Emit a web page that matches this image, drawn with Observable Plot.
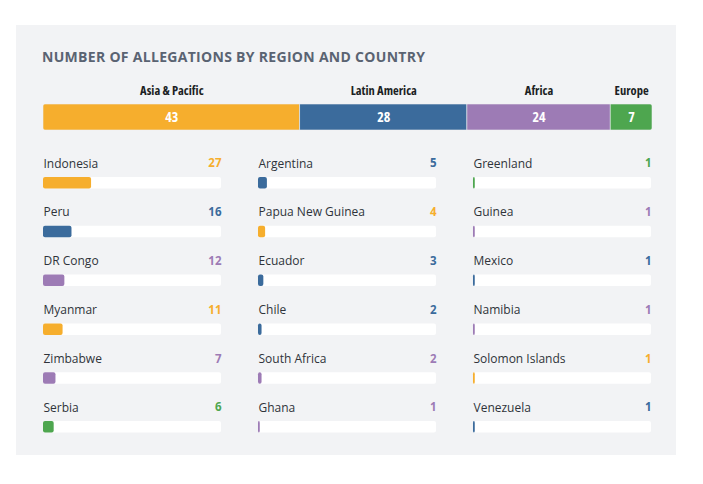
<!DOCTYPE html>
<html>
<head>
<meta charset="utf-8">
<script src="https://cdn.jsdelivr.net/npm/d3@7"></script>
<script src="https://cdn.jsdelivr.net/npm/@observablehq/plot@0.6"></script>
<style>
  html, body { margin: 0; padding: 0; background: #ffffff; }
  body { width: 703px; height: 484px; position: relative; overflow: hidden; font-family: "Open Sans", sans-serif; }
  #panel { position: absolute; left: 16px; top: 25px; width: 660px; height: 430px; background: #f2f3f5; }
  #title { position: absolute; left: 42px; top: 47px; font-family: "Open Sans", sans-serif; font-weight: 700; font-size: 14px; color: #5a6372; letter-spacing: 0.3px; white-space: nowrap; }
  #stack { position: absolute; left: 0; top: 80px; }
  #grid { position: absolute; left: 0; top: 140px; }
  #stack g[aria-label="bar"] { clip-path: inset(0 round 4px); }
  #stack text { font-stretch: 75%; }
  svg { background: transparent !important; overflow: visible; }
</style>
</head>
<body>
<div id="panel"></div>
<div id="title">NUMBER OF ALLEGATIONS BY REGION AND COUNTRY</div>
<div id="stack"></div>
<div id="grid"></div>
<script>
// Region totals
const regions = ["Asia & Pacific", "Latin America", "Africa", "Europe"];
const regionTotals = [43, 28, 24, 7];
const regionColors = ["#f6ae2d", "#3b6b9c", "#9d7bb5", "#4ea64f"];

// Countries, by column (top to bottom)
const countries = [
  "Indonesia", "Peru", "DR Congo", "Myanmar", "Zimbabwe", "Serbia",
  "Argentina", "Papua New Guinea", "Ecuador", "Chile", "South Africa", "Ghana",
  "Greenland", "Guinea", "Mexico", "Namibia", "Solomon Islands", "Venezuela"
];
const countryValues = [
  27, 16, 12, 11, 7, 6,
  5, 4, 3, 2, 2, 1,
  1, 1, 1, 1, 1, 1
];
const countryRegions = [
  "Asia & Pacific", "Latin America", "Africa", "Asia & Pacific", "Africa", "Europe",
  "Latin America", "Asia & Pacific", "Latin America", "Latin America", "Africa", "Africa",
  "Europe", "Africa", "Latin America", "Africa", "Asia & Pacific", "Latin America"
];
const countryColumn = [0,0,0,0,0,0, 1,1,1,1,1,1, 2,2,2,2,2,2];
const countryRow = [0,1,2,3,4,5, 0,1,2,3,4,5, 0,1,2,3,4,5];
const barMax = 100;

const regionData = regions.map((r, i) => ({region: r, value: regionTotals[i]}));
const countryData = countries.map((c, i) => ({
  country: c, value: countryValues[i], region: countryRegions[i],
  col: countryColumn[i], row: countryRow[i], max: barMax
}));

const color = {domain: regions, range: regionColors};
const font = "'Open Sans', sans-serif";

const stack = Plot.plot({
  width: 703,
  height: 55,
  marginLeft: 43,
  marginRight: 51,
  marginTop: 24,
  marginBottom: 5,
  x: {domain: [0, d3.sum(regionTotals)], axis: null},
  color,
  style: {background: "transparent"},
  marks: [
    Plot.barX(regionData, Plot.stackX({x: "value", fill: "region", stroke: "#e9ecef", strokeWidth: 0.6})),
    Plot.text(regionData, Plot.stackX({x: "value", text: "value", fill: "white",
      fontFamily: font, fontWeight: 700, fontSize: 14})),
    Plot.text(regionData, Plot.stackX({x: "value", text: "region", fill: "#1c1f24",
      frameAnchor: "top", dy: -18, fontFamily: font, fontWeight: 700, fontSize: 12.5}))
  ]
});
document.getElementById("stack").appendChild(stack);

const grid = Plot.plot({
  width: 703,
  height: 310,
  marginLeft: 43,
  marginRight: 52,
  marginTop: 37,
  marginBottom: 17.5,
  x: {domain: [0, barMax], axis: null},
  y: {domain: [0, 1, 2, 3, 4, 5], axis: null, paddingInner: 0.764, paddingOuter: 0, round: false},
  fx: {domain: [0, 1, 2], axis: null, paddingInner: 0.172, paddingOuter: 0, round: false},
  color,
  style: {background: "transparent"},
  marks: [
    Plot.barX(countryData, {x: "max", y: "row", fx: "col", fill: "white", rx: 2}),
    Plot.barX(countryData, {x: "value", y: "row", fx: "col", fill: "region", rx: 2}),
    Plot.text(countryData, {y: "row", fx: "col", text: "country", frameAnchor: "left",
      textAnchor: "start", dy: -19.5, fill: "#2f333a", fontSize: 12, fontFamily: font}),
    Plot.text(countryData, {y: "row", fx: "col", text: "value", frameAnchor: "right",
      textAnchor: "end", dy: -19.5, fill: "region", fontSize: 11.5, fontWeight: 700, fontFamily: font})
  ]
});
document.getElementById("grid").appendChild(grid);
</script>
</body>
</html>
